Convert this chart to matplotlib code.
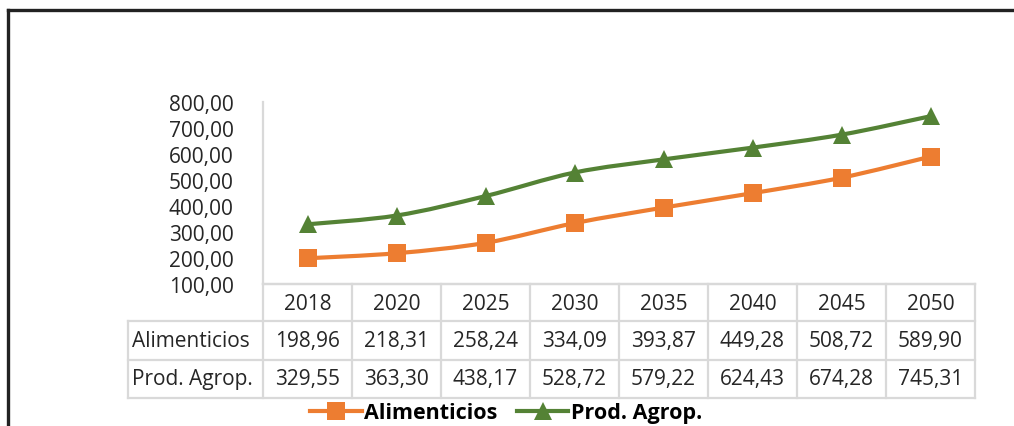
import matplotlib.pyplot as plt
import numpy as np
from matplotlib.lines import Line2D
from matplotlib.path import Path
from matplotlib.patches import PathPatch

years = ["2018", "2020", "2025", "2030", "2035", "2040", "2045", "2050"]
alimenticios = [198.96, 218.31, 258.24, 334.09, 393.87, 449.28, 508.72, 589.90]
prod_agrop = [329.55, 363.30, 438.17, 528.72, 579.22, 624.43, 674.28, 745.31]
series_names = ["Alimenticios", "Prod. Agrop."]
y_ticks = [100, 200, 300, 400, 500, 600, 700, 800]

ORANGE = "#ED7D31"
GREEN = "#548235"
GRID = "#d9d9d9"
TEXT = "#262626"

W, H = 1014, 427
plt.rcParams["font.family"] = ["Open Sans", "DejaVu Sans"]


def fmt(v):
    return f"{v:.2f}".replace(".", ",")


def box(x0, y0, x1, y1):
    """Pixel box (top-left origin) -> figure fraction rect."""
    return [x0 / W, (H - y1) / H, (x1 - x0) / W, (y1 - y0) / H]


def smooth_path(xs, ys):
    """Excel-like smoothed line as cubic Bezier segments (Catmull-Rom)."""
    pts = np.column_stack([xs, ys])
    verts = [pts[0]]
    codes = [Path.MOVETO]
    n = len(pts)
    for i in range(n - 1):
        p0 = pts[max(i - 1, 0)]
        p1 = pts[i]
        p2 = pts[i + 1]
        p3 = pts[min(i + 2, n - 1)]
        c1 = p1 + (p2 - p0) / 6.0
        c2 = p2 - (p3 - p1) / 6.0
        verts += [c1, c2, p2]
        codes += [Path.CURVE4] * 3
    return Path(verts, codes)


fig = plt.figure(figsize=(W / 100, H / 100), dpi=100)

# plot area
plot_l, plot_r, plot_t, plot_b = 263, 975, 103, 285
ax = fig.add_axes(box(plot_l, plot_t, plot_r, plot_b))
n = len(years)
xs = np.arange(n) + 0.5
ax.set_xlim(0, n)
ax.set_ylim(100, 800)

for vals, color, marker, ms in [(alimenticios, ORANGE, "s", 12.5),
                                (prod_agrop, GREEN, "^", 13.5)]:
    ax.add_patch(PathPatch(smooth_path(xs, vals), fill=False, edgecolor=color,
                           lw=3, capstyle="round", joinstyle="round", zorder=2))
    ax.plot(xs, vals, linestyle="none", marker=marker, ms=ms, color=color,
            markeredgewidth=0, zorder=3, clip_on=False)

ax.set_yticks(y_ticks)
ax.set_yticklabels([fmt(v) for v in y_ticks], fontsize=15, color=TEXT)
ax.tick_params(axis="y", length=0, pad=21)
ax.set_xticks([])
for s in ["top", "right"]:
    ax.spines[s].set_visible(False)
for s in ["left", "bottom"]:
    ax.spines[s].set_color(GRID)
    ax.spines[s].set_linewidth(1.6)

# data table
tab_l, tab_r = 128, 975
row_edges = [285, 322, 361, 399]
col_w = (plot_r - plot_l) / n
tab = fig.add_axes(box(tab_l, row_edges[0], tab_r, row_edges[-1]))
tab.set_xlim(tab_l, tab_r)
tab.set_ylim(row_edges[-1], row_edges[0])
tab.axis("off")

lkw = dict(color=GRID, lw=1.6, solid_capstyle="projecting", clip_on=False)
col_edges = [plot_l + i * col_w for i in range(n + 1)]
for i, x in enumerate(col_edges):
    tab.plot([x, x], [row_edges[0], row_edges[-1]], **lkw)
tab.plot([tab_l, tab_l], [row_edges[1], row_edges[-1]], **lkw)
tab.plot([plot_l, tab_r], [row_edges[0], row_edges[0]], **lkw)
for y in row_edges[1:]:
    tab.plot([tab_l, tab_r], [y, y], **lkw)

for i, yr in enumerate(years):
    cx = plot_l + (i + 0.5) * col_w
    tab.text(cx, (row_edges[0] + row_edges[1]) / 2 + 1, yr, ha="center",
             va="center", fontsize=15, color=TEXT)
for r, (name, vals) in enumerate(zip(series_names, [alimenticios, prod_agrop])):
    cy = (row_edges[r + 1] + row_edges[r + 2]) / 2
    tab.text(tab_l + 4, cy, name, ha="left", va="center", fontsize=15, color=TEXT)
    for i, v in enumerate(vals):
        cx = plot_l + (i + 0.5) * col_w
        tab.text(cx, cy, fmt(v), ha="center", va="center", fontsize=15, color=TEXT)

# legend
handles = [Line2D([], [], color=ORANGE, lw=3, marker="s", ms=12.5, markeredgewidth=0),
           Line2D([], [], color=GREEN, lw=3, marker="^", ms=13.5, markeredgewidth=0)]
fig.legend(handles, series_names, loc="center", bbox_to_anchor=(506 / W, 1 - 414 / H),
           ncol=2, frameon=False, handlelength=2.4, handletextpad=0.1,
           columnspacing=0.9, prop={"weight": "bold", "size": 15.5})

# outer frame (left and top edges visible)
fig.add_artist(Line2D([8 / W, 8 / W], [0, 1 - 11 / H], color="#222222", lw=2.4))
fig.add_artist(Line2D([8 / W, 1], [1 - 11 / H, 1 - 11 / H], color="#222222", lw=2.4))

fig.savefig("out.png", dpi=100)
